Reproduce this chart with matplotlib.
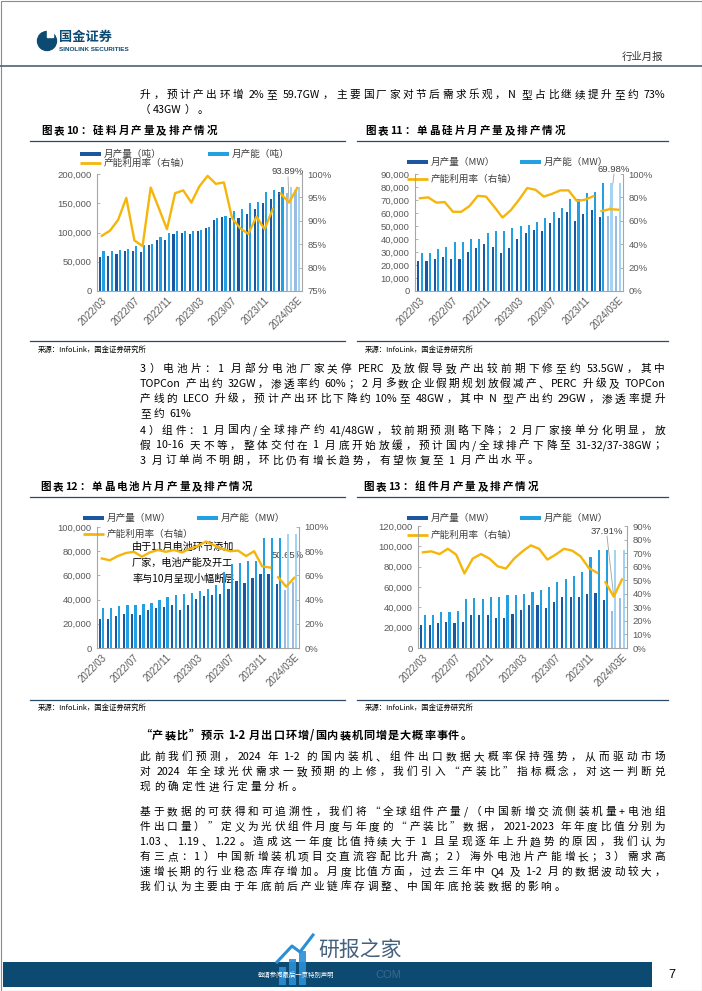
import re
import numpy as np
import matplotlib
matplotlib.use('Agg')
import matplotlib.pyplot as plt
from matplotlib.patches import Rectangle, Circle
from matplotlib.ticker import FuncFormatter

W, H = 702, 991
CJK = ['Noto Sans CJK SC', 'DejaVu Sans']
NUM = ['Liberation Sans', 'Noto Sans CJK SC', 'DejaVu Sans']

DARK = '#1b56a0'
LIGHT = '#22a0e2'
DARK_F = '#9dbbe0'
LIGHT_F = '#a3d5f2'
GOLD = '#f5b50a'
GRAY = '#595959'
NAVY = '#0d4a72'
RULE = '#2b4c68'

# x axis
x_labels = ['2022/03', '2022/07', '2022/11', '2023/03', '2023/07', '2023/11', '2024/03E']
x_label_pos = [0, 4, 8, 12, 16, 20, 24]
n_forecast = 2      # last two months drawn pale
seg_break = 22      # utilisation line restarts here

# 图表10 硅料 (吨)
poly_output = [58800, 60500, 63000, 68000, 68000, 66000, 79000, 87500, 87500, 98000, 99000, 96800, 102500,
               107700, 122000, 126700, 124000, 125600, 131000, 141000, 150000, 158000, 169000, 167000, 173000]
poly_capacity = [68000, 69000, 70000, 71400, 77000, 79000, 80600, 93000, 99600, 102000, 102000, 102000, 105000,
                 109000, 125000, 128000, 137000, 141000, 150000, 152600, 169000, 173000, 177000, 178000, 178000]
poly_util = [86.8, 87.9, 90.2, 94.9, 85.8, 84.6, 97.1, 92.7, 88.2, 95.9, 96.5, 93.9, 97.4,
             99.6, 97.9, 98.2, 90.6, 88.4, 87.2, 90.9, 88.2, 92.5, 95.8, 93.89, 97.0]

# 图表11 硅片 (MW)
wafer_output = [23300, 23000, 24600, 26000, 25000, 25000, 30000, 33000, 36000, 34000, 29500, 33000, 40000,
                45000, 46600, 46000, 52000, 56000, 61000, 54000, 59600, 62000, 57000, 58000, 58000]
wafer_capacity = [29000, 29000, 32000, 34000, 38000, 38000, 40000, 40000, 44500, 46000, 46000, 48700, 49700,
                  51000, 53000, 56500, 61000, 64000, 70500, 70500, 75600, 76400, 83400, 83000, 83000]
wafer_util = [79.3, 80, 75.5, 76, 67.7, 67.7, 72.6, 81.3, 80.7, 72, 62.8, 69, 78,
              88, 86.5, 80.7, 83, 86, 86, 77, 78, 81, 68.3, 69.98, 69.5]

# 图表12 电池片 (MW)
cell_output = [24000, 23700, 26400, 27800, 28400, 27000, 31000, 33000, 33900, 35800, 31700, 35300, 40800,
               43000, 44000, 45000, 49000, 55000, 54000, 58000, 61000, 61000, 53000, 47600, 54500]
cell_capacity = [33000, 33300, 34400, 35300, 35800, 36600, 37500, 40000, 42000, 44000, 44300, 45500, 47000,
                 49000, 51800, 62800, 69500, 70000, 71500, 72000, 91000, 91000, 91000, 94000, 94000]
cell_util = [74, 72.5, 76, 78.5, 79.5, 75.5, 79, 81, 79.5, 81, 79, 82, 84.5,
             88, 85, 82, 80, 80.5, 76, 80, 67.5, 66.5, 58.5, 50.65, 58]

# 图表13 组件 (MW)
module_output = [22700, 22700, 24300, 26000, 24300, 26000, 32500, 32800, 32800, 30000, 29500, 33800, 37700,
                 42000, 41900, 39300, 45500, 50300, 50300, 50300, 53000, 54000, 47000, 36700, 49000]
module_capacity = [32500, 32500, 35000, 35000, 36700, 48000, 48700, 48000, 49700, 49700, 52000, 52000, 53600,
                   55500, 57000, 60400, 65000, 68000, 70500, 74700, 89600, 96800, 96800, 96800, 96800]
module_util = [70.6, 71.3, 69.3, 73.2, 68.9, 55, 66, 69.3, 66, 60.3, 58.6, 66, 71.3,
               75.7, 73.2, 65.2, 68.9, 73.2, 71.8, 67.6, 59, 55.5, 48.5, 37.91, 50.6]

fig = plt.figure(figsize=(W / 100, H / 100), dpi=100)
page = fig.add_axes([0, 0, 1, 1])
page.set_xlim(0, W)
page.set_ylim(H, 0)
page.axis('off')
renderer = fig.canvas.get_renderer()

BODY = 7.7


def run_width(s, size, weight):
    t = page.text(0, 0, s, fontsize=size, family=CJK, weight=weight)
    w = t.get_window_extent(renderer=renderer).width
    t.remove()
    return w


def put_line(x0, y, s, size=BODY, x1=None, gap=1.2, weight='normal', color='black'):
    """draw a line char by char so it can be justified like the pdf"""
    em = size * 100 / 72
    items = []
    for tok in re.findall(r'[ -~]+|.', s):
        if ord(tok[0]) < 128:
            core = tok.strip()
            lead = (len(tok) - len(tok.lstrip())) * 0.28 * em
            trail = (len(tok) - len(tok.rstrip())) * 0.28 * em
            items.append((core, run_width(core, size, weight) if core else 0, lead, trail))
        else:
            items.append((tok, em, 0, 0))
    natural = sum(w + a + b for _, w, a, b in items)
    if x1 is not None and len(items) > 1:
        gap = (x1 - x0 - natural) / (len(items) - 1)
    x = x0
    for core, w, a, b in items:
        x += a
        if core:
            page.text(x, y, core, fontsize=size, family=CJK, va='center', ha='left',
                      weight=weight, color=color)
        x += w + b + gap
    return gap


def paragraph(lines, y0, step=15.0, x0=140, x1=665, size=BODY, weight='normal'):
    gap = 1.2
    for k, s in enumerate(lines):
        y = y0 + k * step
        if k < len(lines) - 1:
            gap = put_line(x0, y, s, size, x1, weight=weight)
        else:
            put_line(x0, y, s, size, None, gap=gap, weight=weight)


def legend(x_icon, x_icon2, y1, y2, unit):
    for xi, col, lab in [(x_icon, DARK, f'月产量（{unit}）'), (x_icon2, LIGHT, f'月产能（{unit}）')]:
        page.add_patch(Rectangle((xi, y1 - 2), 21, 4, color=col, lw=0))
        page.text(xi + 24, y1, lab, fontsize=6.9, family=CJK, color='#404040', va='center')
    page.plot([x_icon, x_icon + 21], [y2, y2], color=GOLD, lw=2.0, solid_capstyle='butt')
    page.text(x_icon + 24, y2, '产能利用率（右轴）', fontsize=6.9, family=CJK, color='#404040', va='center')


def chart(box, output, capacity, util, ymax, ystep, rlim, rstep, note, note_xy, leader=True):
    left, right, top, bottom = box
    ax = fig.add_axes([left / W, 1 - bottom / H, (right - left) / W, (bottom - top) / H])
    ax.patch.set_alpha(0)
    n = len(output)
    x = np.arange(n)
    cut = n - n_forecast
    out = np.array(output)
    cap = np.array(capacity)
    ax.bar(x[:cut] - 0.2, out[:cut], 0.26, color=DARK, lw=0, zorder=2)
    ax.bar(x[:cut] + 0.2, cap[:cut], 0.26, color=LIGHT, lw=0, zorder=2)
    ax.bar(x[cut:] - 0.2, out[cut:], 0.26, color=DARK_F, lw=0, zorder=2)
    ax.bar(x[cut:] + 0.2, cap[cut:], 0.26, color=LIGHT_F, lw=0, zorder=2)
    ax.set_xlim(-0.6, n - 0.4)
    ax.set_ylim(0, ymax)
    ax.set_yticks(np.arange(0, ymax + 1, ystep))
    ax.yaxis.set_major_formatter(FuncFormatter(lambda v, p: f'{v:,.0f}'))
    ax.set_xticks(x_label_pos)
    ax.set_xticklabels(x_labels, rotation=45, ha='right', rotation_mode='anchor')
    ax.tick_params(axis='x', length=0, pad=3, labelsize=7.0, labelcolor=GRAY)
    ax.tick_params(axis='y', direction='in', length=2.5, width=0.6, color='#a6a6a6',
                   pad=4, labelsize=6.8, labelcolor=GRAY)
    for lab in ax.get_xticklabels() + ax.get_yticklabels():
        lab.set_family(NUM)
    for side in ['top', 'right']:
        ax.spines[side].set_visible(False)
    for side in ['left', 'bottom']:
        ax.spines[side].set_color('#a6a6a6')
        ax.spines[side].set_linewidth(0.8)

    ax2 = ax.twinx()
    ax2.plot(x[:seg_break], util[:seg_break], color=GOLD, lw=1.7, solid_joinstyle='round', zorder=3)
    ax2.plot(x[seg_break:], util[seg_break:], color=GOLD, lw=1.7, solid_joinstyle='round', zorder=3)
    ax2.set_ylim(*rlim)
    ax2.set_yticks(np.arange(rlim[0], rlim[1] + 0.1, rstep))
    ax2.yaxis.set_major_formatter(FuncFormatter(lambda v, p: f'{v:.0f}%'))
    ax2.tick_params(axis='y', direction='in', length=2.5, width=0.6, color='#a6a6a6',
                    pad=4, labelsize=6.8, labelcolor=GRAY)
    for lab in ax2.get_yticklabels():
        lab.set_family(NUM)
    for side in ['top', 'left', 'bottom']:
        ax2.spines[side].set_visible(False)
    ax2.spines['right'].set_color('#a6a6a6')
    ax2.spines['right'].set_linewidth(0.8)

    # data label on Feb-2024 with a thin leader
    k = n - 2
    page.text(note_xy[0], note_xy[1], note, fontsize=6.8, family=NUM, color='#404040',
              ha='center', va='center')
    if leader:
        px, py = ax2.transData.transform((k, util[k]))
        page.plot([note_xy[0], px], [note_xy[1] + 5, H - py], color='#a0a0a0', lw=0.6, zorder=1)
    return ax, ax2


# ---------- page furniture ----------
page.add_patch(Rectangle((0.5, 0.5), W - 1, H - 1, fill=False, ec='#8c8c8c', lw=0.8))
page.add_patch(Circle((47, 41), 9.5, color=NAVY))
page.add_patch(Rectangle((47, 30), 6, 7, color='white'))
page.text(59, 37, '国金证券', fontsize=9.5, family=CJK, weight='bold', color=NAVY, va='center')
page.text(59, 49.5, 'SINOLINK SECURITIES', fontsize=4.6, family=NUM, weight='bold', color=NAVY, va='center')
page.text(663, 57, '行业月报', fontsize=7.5, family=CJK, color='#333333', ha='right', va='center')
page.plot([0, W], [66, 66], color='#4b6577', lw=1.2)

paragraph(['升，预计产出环增 2%至 59.7GW，主要国厂家对节后需求乐观，N 型占比继续提升至约 73%',
           '（43GW）。'], 95, step=15)

# chart titles and rules
put_line(41, 131, '图表10：硅料月产量及排产情况', 7.6, 217, weight='bold')
put_line(365, 131, '图表11：单晶硅片月产量及排产情况', 7.6, 565, weight='bold')
put_line(40, 487, '图表12：单晶电池片月产量及排产情况', 7.6, 252, weight='bold')
put_line(363, 487, '图表13：组件月产量及排产情况', 7.6, 538, weight='bold')
for y in [141, 497, 341, 700]:
    page.plot([30, 345], [y, y], color=RULE, lw=0.9)
    page.plot([357, 668], [y, y], color=RULE, lw=0.9)
for y in [350, 708]:
    page.text(38, y, '来源：InfoLink，国金证券研究所', fontsize=5.3, family=CJK, va='center')
    page.text(365, y, '来源：InfoLink，国金证券研究所', fontsize=5.3, family=CJK, va='center')

# charts
legend(80, 208, 154, 163, '吨')
chart((97, 302, 174, 291), poly_output, poly_capacity, poly_util,
      200000, 50000, (75, 100), 5, '93.89%', (288, 172))
legend(407, 520, 162, 179, 'MW')
chart((415, 623, 174, 291), wafer_output, wafer_capacity, wafer_util,
      90000, 10000, (0, 100), 20, '69.98%', (614, 169))
legend(83, 197, 518, 534, 'MW')
chart((97, 299, 527, 648), cell_output, cell_capacity, cell_util,
      100000, 20000, (0, 100), 20, '50.65%', (288, 556), leader=False)
for k, s in enumerate(['由于11月电池环节添加', '厂家，电池产能及开工', '率与10月呈现小幅断层']):
    page.text(132, 547 + 16 * k, s, fontsize=7.3, family=CJK, va='center', zorder=5)
legend(407, 520, 518, 535, 'MW')
chart((418, 627, 526, 648), module_output, module_capacity, module_util,
      120000, 20000, (0, 90), 10, '37.91%', (607, 531))

# body text between the chart rows
paragraph(['3）电池片：1 月部分电池厂家关停 PERC 及放假导致产出较前期下修至约 53.5GW，其中',
           'TOPCon 产出约 32GW，渗透率约 60%；2 月多数企业假期规划放假减产、PERC 升级及 TOPCon',
           '产线的 LECO 升级，预计产出环比下降约 10%至 48GW，其中 N 型产出约 29GW，渗透率提升',
           '至约 61%'], 369)
paragraph(['4）组件：1 月国内/全球排产约 41/48GW，较前期预测略下降；2 月厂家接单分化明显，放',
           '假 10-16 天不等，整体交付在 1 月底开始放缓，预计国内/全球排产下降至 31-32/37-38GW；',
           '3 月订单尚不明朗，环比仍有增长趋势，有望恢复至 1 月产出水平。'], 430.5)

put_line(140, 735.5, '“产装比”预示 1-2 月出口环增/国内装机同增是大概率事件。', 8.0, None, gap=1.0, weight='bold')
paragraph(['此前我们预测，2024 年 1-2 的国内装机、组件出口数据大概率保持强势，从而驱动市场',
           '对 2024 年全球光伏需求一致预期的上修，我们引入“产装比”指标概念，对这一判断兑',
           '现的确定性进行定量分析。'], 757)
paragraph(['基于数据的可获得和可追溯性，我们将“全球组件产量/（中国新增交流侧装机量+电池组',
           '件出口量）”定义为光伏组件月度与年度的“产装比”数据，2021-2023 年年度比值分别为',
           '1.03、1.19、1.22。造成这一年度比值持续大于 1 且呈现逐年上升趋势的原因，我们认为',
           '有三点：1）中国新增装机项目交直流容配比升高；2）海外电池片产能增长；3）需求高',
           '速增长期的行业稳态库存增加。月度比值方面，过去三年中 Q4 及 1-2 月的数据波动较大，',
           '我们认为主要由于年底前后产业链库存调整、中国年底抢装数据的影响。'], 812)

# footer
page.add_patch(Rectangle((3, 962), 649, 25, color=NAVY, lw=0))
page.text(672, 975, '7', fontsize=9, family=NUM, ha='center', va='center')
page.text(258, 975, '敬请参阅最后一页特别声明', fontsize=4.6, family=CJK, color='white', va='center')
for bx, bh in [(279, 18), (289, 26), (299, 34)]:
    page.add_patch(Rectangle((bx, 985 - bh), 7, bh, color='#2b8fd6', alpha=0.9, lw=0))
page.plot([277, 292, 300, 313], [962, 946, 952, 935], color='#2b8fd6', lw=2.2)
page.text(318, 950, '研报之家', fontsize=15, family=CJK, color='#2f4f6f', va='center', alpha=0.9)
page.text(375, 975, 'COM', fontsize=8, family=NUM, color='#5c7a95', va='center', alpha=0.6)

fig.savefig('out.png', dpi=100)
